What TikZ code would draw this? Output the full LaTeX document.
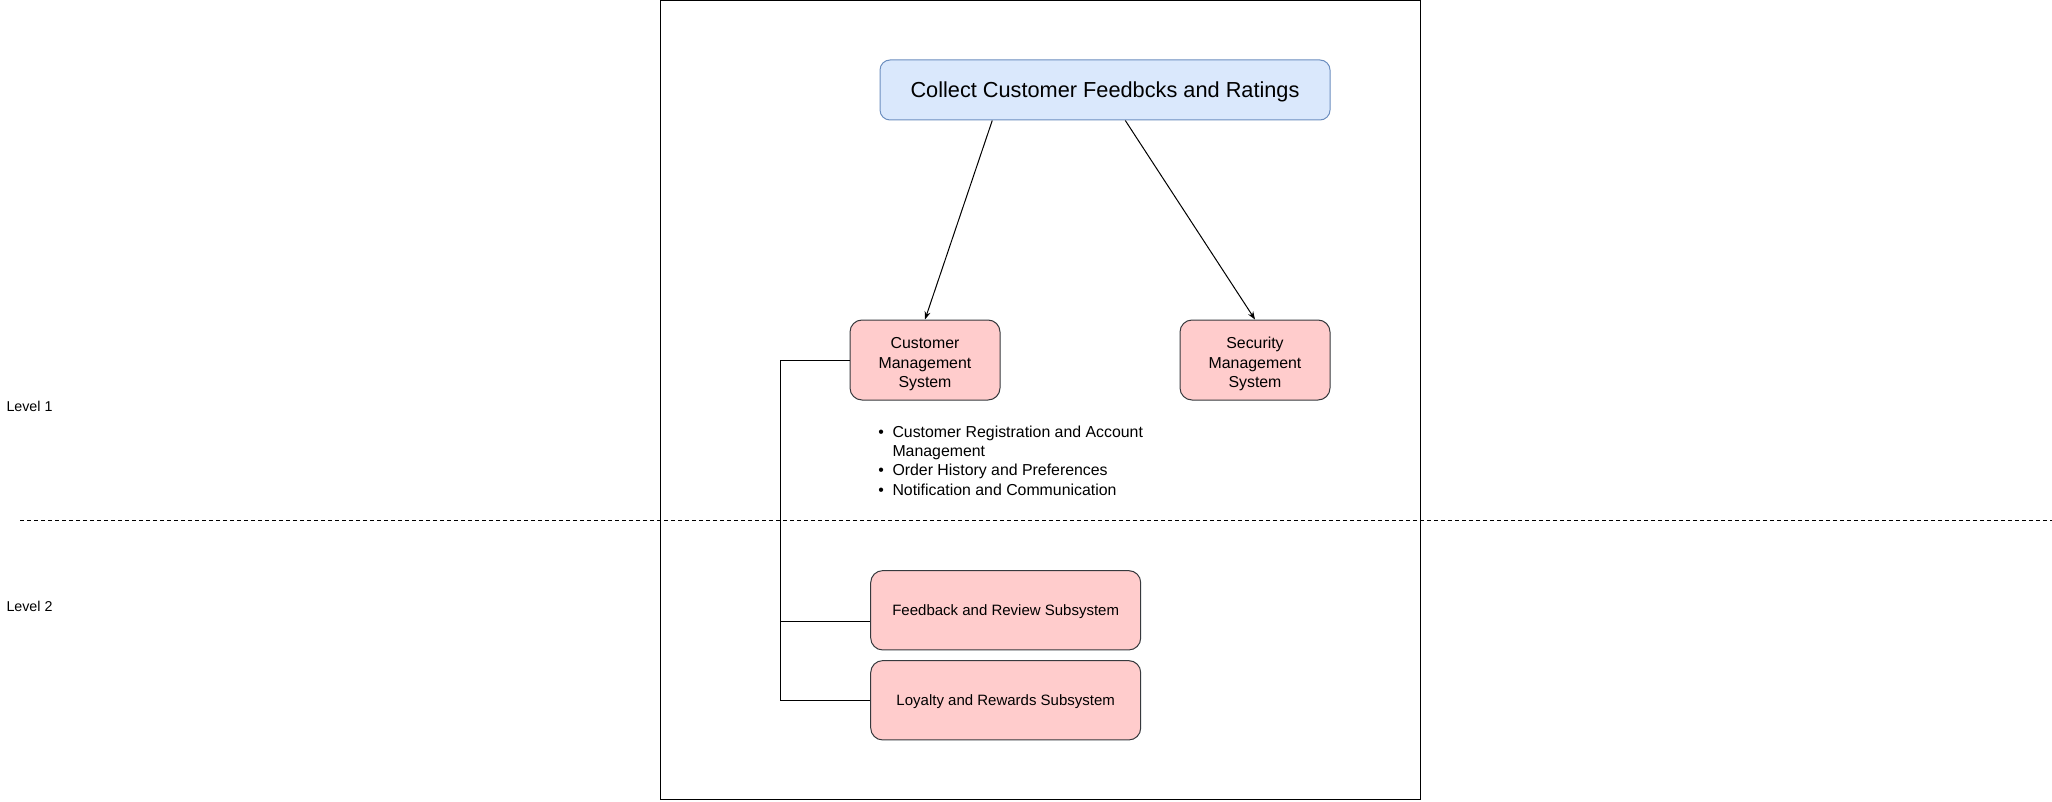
\documentclass[tikz,border=0pt]{standalone}
\usepackage{fontspec}
\setmainfont{Liberation Sans}
\usetikzlibrary{arrows.meta,positioning,calc}
\definecolor{topfill}{HTML}{DAE8FC}
\definecolor{topdraw}{HTML}{6C8EBF}
\definecolor{sysfill}{HTML}{FFCCCC}
\definecolor{sysdraw}{HTML}{36393D}
\tikzset{
    >={Stealth[length=6pt,width=4.5pt]},
    every picture/.style={line width=0.75pt},
    topbox/.style={draw=topdraw,fill=topfill,rounded corners=7.5pt,inner sep=0pt,text depth=0pt,
        minimum width=337.5pt,minimum height=45pt,font=\fontsize{16.3}{19}\selectfont},
    pinkbox/.style={draw=sysdraw,fill=sysfill,rounded corners=9pt,inner sep=0pt,align=center,text depth=0pt},
    sysbox/.style={pinkbox,minimum width=112.5pt,minimum height=60pt,text height=41pt,
        font=\fontsize{11.9}{14.5}\selectfont},
    subbox/.style={pinkbox,minimum width=202.5pt,minimum height=59.5pt,font=\fontsize{11.25}{13.5}\selectfont},
    levellabel/.style={anchor=west,inner sep=0pt,font=\fontsize{10.7}{13}\selectfont}
}

\begin{document}
\begin{tikzpicture}[x=0.75pt,y=-0.75pt]
    \useasboundingbox (0,0) rectangle (2052,802);

    % container and level separator
    \draw (660,0.7) rectangle (1420,799.6);
    \coordinate (sepL) at (20,520);
    \coordinate (sepR) at (2052,520);
    \draw[dash pattern=on 3pt off 2.25pt] (sepL) -- (sepR);
    \node[levellabel] (lvl1) at (6,406) {Level 1};
    \node[levellabel] (lvl2) at (6,606.5) {Level 2};

    % level 1
    \node[topbox] (collect) at (1105,90) {Collect Customer Feedbcks and Ratings};
    \node[sysbox] (cms) at (925,360) {Customer\\Management\\System};
    \node[sysbox] (sms) at (1255,360) {Security\\Management\\System};

    \draw[->] ($(collect.south west)!0.25!(collect.south east)$) -- (cms.north);
    \draw[->] ($(collect.south west)!0.545!(collect.south east)$) -- (sms.north);

    % features of the customer management system
    \node[anchor=north west,inner sep=0pt,align=left,font=\fontsize{11.9}{14.5}\selectfont] (features) at (892,425.3)
        {\llap{\textbullet\hspace{6.5pt}}Customer Registration and Account\\
         Management\\
         \llap{\textbullet\hspace{6.5pt}}Order History and Preferences\\
         \llap{\textbullet\hspace{6.5pt}}Notification and Communication};

    % level 2
    \node[subbox] (feedback) at (1005.7,610.3) {Feedback and Review Subsystem};
    \node[subbox] (loyalty) at (1005.7,700.3) {Loyalty and Rewards Subsystem};

    \coordinate (bus) at (780.7,360);
    \draw (cms.west) -- (bus) |- ([yshift=-8.25pt]feedback.west);
    \draw (bus) |- (loyalty.west);
\end{tikzpicture}
\end{document}
